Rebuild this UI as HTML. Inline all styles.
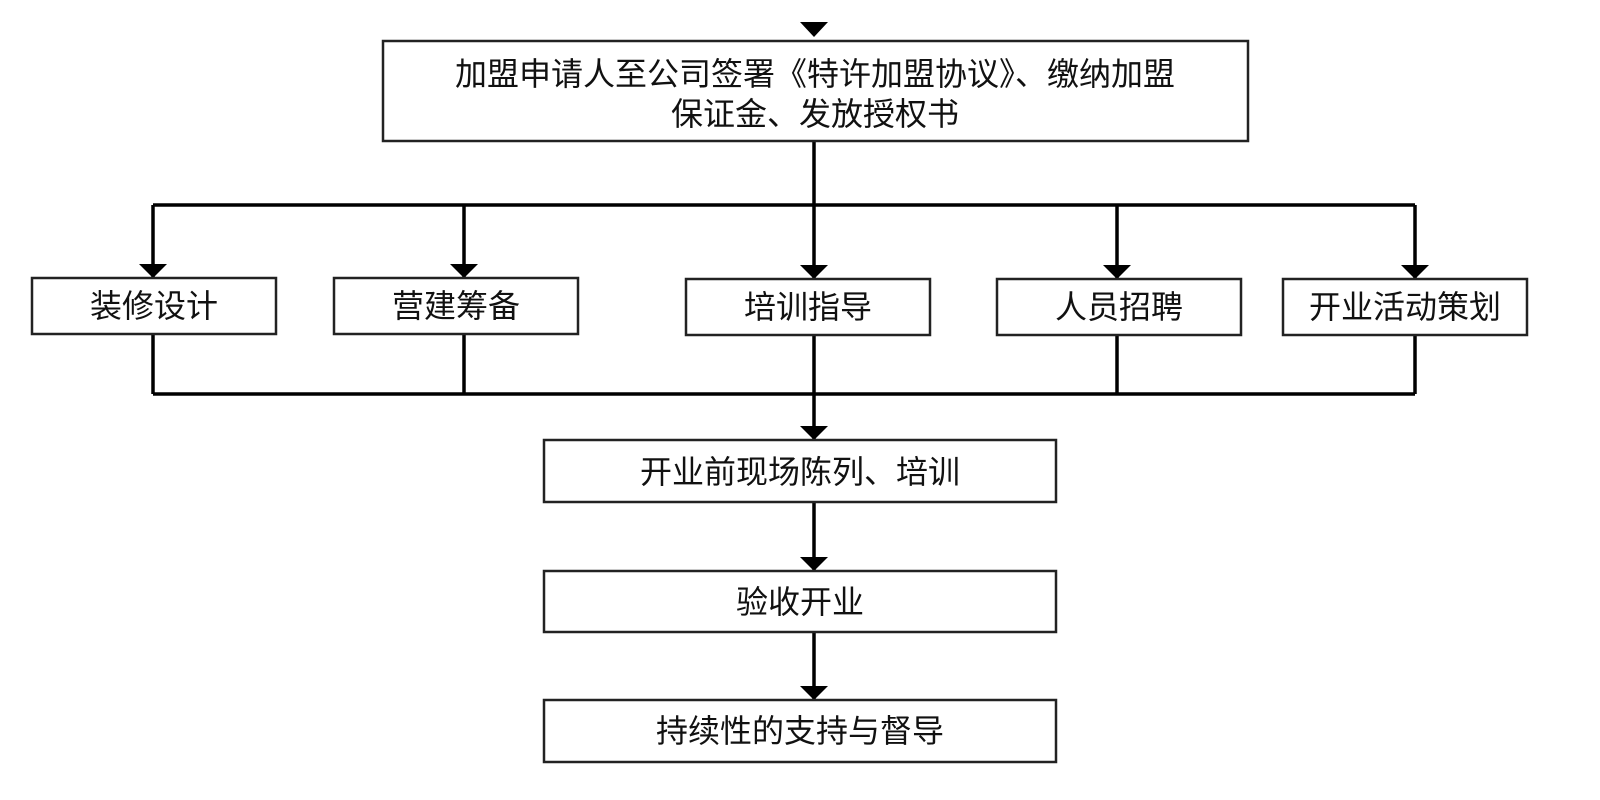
<!DOCTYPE html>
<html><head><meta charset="utf-8"><style>
html,body{margin:0;padding:0;background:#fff;}
svg{display:block}
text{font-family:"Liberation Sans","Noto Sans CJK SC",sans-serif;font-size:32px;fill:#111;text-anchor:middle;}
</style></head><body>
<svg width="1600" height="800" viewBox="0 0 1600 800" xmlns="http://www.w3.org/2000/svg">
<defs><marker id="a" markerWidth="10" markerHeight="10" refX="0" refY="0" overflow="visible" markerUnits="userSpaceOnUse"><path d="M-14,-14 L14,-14 L0,0 Z" fill="#000"/></marker></defs>
<g stroke="#000" stroke-width="3.5" fill="none">
<path d="M800,22 L828,22 L814,37 Z" fill="#000" stroke="none"/>
<line x1="814" y1="141" x2="814" y2="205"/>
<line x1="153" y1="205" x2="1415" y2="205"/>
<line x1="153" y1="205" x2="153" y2="278" marker-end="url(#a)"/>
<line x1="464" y1="205" x2="464" y2="278" marker-end="url(#a)"/>
<line x1="814" y1="205" x2="814" y2="279" marker-end="url(#a)"/>
<line x1="1117" y1="205" x2="1117" y2="279" marker-end="url(#a)"/>
<line x1="1415" y1="205" x2="1415" y2="279" marker-end="url(#a)"/>
<line x1="153" y1="334" x2="153" y2="394"/>
<line x1="464" y1="334" x2="464" y2="394"/>
<line x1="1117" y1="335" x2="1117" y2="394"/>
<line x1="1415" y1="335" x2="1415" y2="394"/>
<line x1="153" y1="394" x2="1415" y2="394"/>
<line x1="814" y1="335" x2="814" y2="440" marker-end="url(#a)"/>
<line x1="814" y1="502" x2="814" y2="571" marker-end="url(#a)"/>
<line x1="814" y1="632" x2="814" y2="700" marker-end="url(#a)"/>
</g>
<g stroke="#222" stroke-width="2.5" fill="#fff">
<rect x="383" y="41" width="865" height="100"/>
<rect x="32" y="278" width="244" height="56"/>
<rect x="334" y="278" width="244" height="56"/>
<rect x="686" y="279" width="244" height="56"/>
<rect x="997" y="279" width="244" height="56"/>
<rect x="1283" y="279" width="244" height="56"/>
<rect x="544" y="440" width="512" height="62"/>
<rect x="544" y="571" width="512" height="61"/>
<rect x="544" y="700" width="512" height="62"/>
</g>
<text x="815" y="85">加盟申请人至公司签署《特许加盟协议》、缴纳加盟</text>
<text x="815" y="125">保证金、发放授权书</text>
<text x="154" y="317">装修设计</text>
<text x="456" y="317">营建筹备</text>
<text x="808" y="318">培训指导</text>
<text x="1119" y="318">人员招聘</text>
<text x="1405" y="318">开业活动策划</text>
<text x="800" y="483">开业前现场陈列、培训</text>
<text x="800" y="613">验收开业</text>
<text x="800" y="742">持续性的支持与督导</text>
</svg>
</body></html>
